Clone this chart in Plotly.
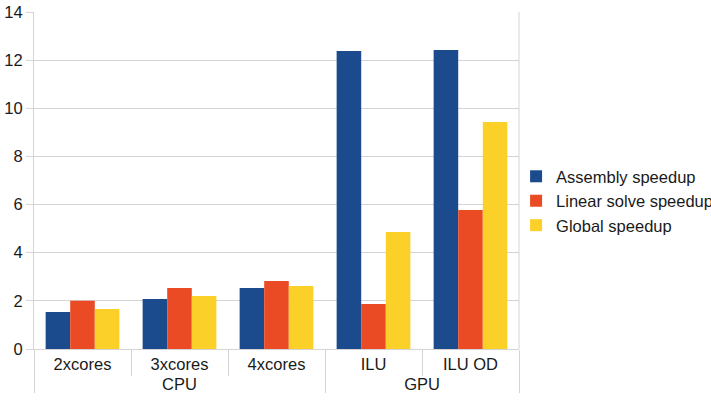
import plotly.graph_objects as go

groups = ["CPU", "CPU", "CPU", "GPU", "GPU"]
configs = ["2xcores", "3xcores", "4xcores", "ILU", "ILU OD"]

assembly = [1.54, 2.08, 2.53, 12.38, 12.42]
linear_solve = [2.00, 2.53, 2.82, 1.87, 5.77]
global_speedup = [1.66, 2.20, 2.62, 4.86, 9.43]

series = [
    ("Assembly speedup", assembly, "#1b4b8c"),
    ("Linear solve speedup", linear_solve, "#ea4b24"),
    ("Global speedup", global_speedup, "#fbd028"),
]

fig = go.Figure()
for name, vals, color in series:
    fig.add_trace(go.Bar(
        x=[groups, configs], y=vals, name=name,
        marker=dict(color=color, line=dict(width=0)),
    ))

grid = "#d4d4d4"
font = "Liberation Sans, Arial, sans-serif"
fsize = 16.5

fig.update_layout(
    width=711, height=401,
    margin=dict(l=34, r=192, t=12, b=52, autoexpand=False),
    paper_bgcolor="white", plot_bgcolor="white",
    barmode="group", bargap=0.24, bargroupgap=0,
    font=dict(family=font, size=fsize, color="#1a1a1a"),
    showlegend=True,
    legend=dict(
        x=0.994, y=0.439, xanchor="left", yanchor="middle",
        font=dict(family=font, size=fsize, color="#1a1a1a"),
        itemwidth=30, tracegroupgap=0,
        bgcolor="rgba(0,0,0,0)",
    ),
    xaxis=dict(
        type="multicategory", automargin=False,
        showline=True, linecolor=grid, linewidth=1,
        ticks="outside", tickson="boundaries", ticklen=26, tickcolor=grid,
        showdividers=True, dividercolor=grid, dividerwidth=1,
        showgrid=False, mirror=False,
        tickfont=dict(family=font, size=fsize, color="#1a1a1a"),
    ),
    yaxis=dict(
        range=[0, 14], dtick=2, tick0=0, automargin=False,
        showgrid=True, gridcolor=grid, gridwidth=1,
        showline=True, linecolor=grid, linewidth=1,
        ticks="outside", ticklen=7, tickcolor=grid,
        zeroline=False,
        tickfont=dict(family=font, size=fsize, color="#1a1a1a"),
    ),
)

# right-hand frame edge
fig.add_shape(type="line", xref="paper", yref="paper",
              x0=1, x1=1, y0=0, y1=1, line=dict(color=grid, width=1))

fig.write_html("out.html")
